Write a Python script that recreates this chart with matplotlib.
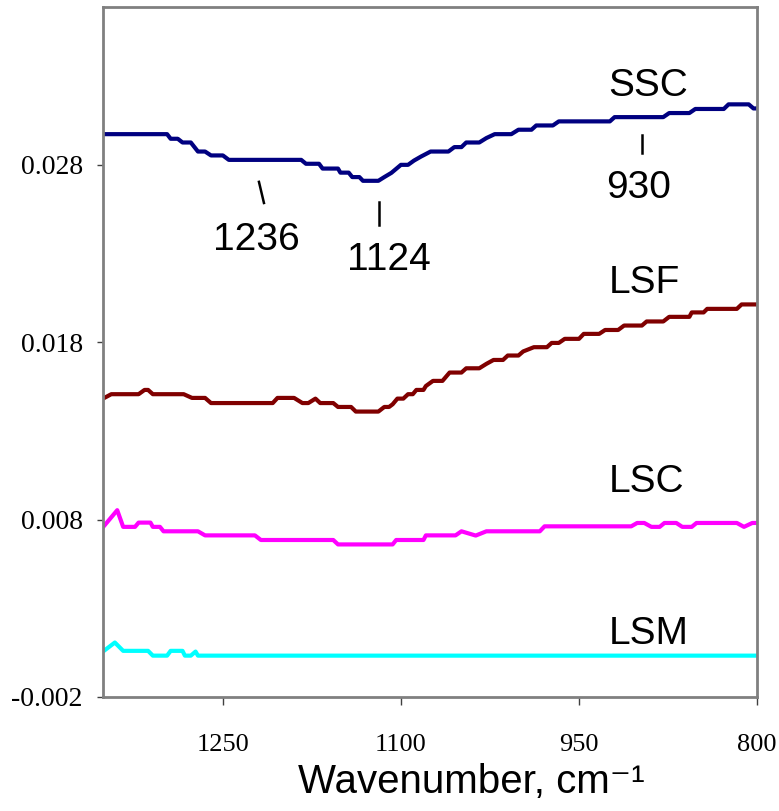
#!/usr/bin/env python3

from matplotlib import pyplot as plt
from matplotlib import font_manager

plt.rcParams['axes.unicode_minus'] = False

# FTIR spectra, wavenumber (cm-1) vs absorbance
ssc_x = [1351, 1297, 1294, 1288, 1284, 1277, 1271, 1265, 1260, 1250, 1245, 1184, 1180, 1169,
         1166, 1153, 1151, 1144, 1141, 1135, 1132, 1119, 1114, 1108, 1100, 1094, 1089, 1083,
         1075, 1060, 1055, 1049, 1045, 1034, 1028, 1021, 1007, 1001, 990, 986, 972, 967, 924,
         920, 879, 874, 857, 852, 828, 824, 807, 803, 800]
ssc_y = [0.02973, 0.02973, 0.02947, 0.02947, 0.02926, 0.02926, 0.02875, 0.02875, 0.02853,
         0.02853, 0.02828, 0.02828, 0.02806, 0.02806, 0.02779, 0.02779, 0.02756, 0.02756,
         0.02731, 0.02731, 0.02710, 0.02710, 0.02731, 0.02755, 0.02800, 0.02800, 0.02824,
         0.02847, 0.02875, 0.02875, 0.02900, 0.02900, 0.02926, 0.02926, 0.02951, 0.02973,
         0.02973, 0.02998, 0.02998, 0.03022, 0.03022, 0.03045, 0.03045, 0.03069, 0.03069,
         0.03092, 0.03092, 0.03115, 0.03115, 0.03141, 0.03141, 0.03118, 0.03118]

lsf_x = [1351, 1344, 1321, 1316, 1313, 1309, 1283, 1276, 1265, 1260, 1208, 1204, 1190, 1183,
         1178, 1172, 1168, 1157, 1153, 1142, 1138, 1119, 1114, 1110, 1107, 1103, 1098, 1094,
         1090, 1087, 1081, 1079, 1073, 1065, 1059, 1049, 1045, 1034, 1028, 1022, 1014, 1010,
         1001, 997, 988, 977, 973, 967, 962, 950, 946, 933, 928, 917, 912, 897, 893, 879, 874,
         857, 855, 845, 842, 817, 813, 800]
lsf_y = [0.01482, 0.01507, 0.01507, 0.01531, 0.01531, 0.01507, 0.01507, 0.01486, 0.01486,
         0.01457, 0.01457, 0.01486, 0.01486, 0.01457, 0.01457, 0.01482, 0.01457, 0.01457,
         0.01435, 0.01435, 0.01409, 0.01409, 0.01435, 0.01435, 0.01450, 0.01482, 0.01482,
         0.01507, 0.01507, 0.01531, 0.01531, 0.01553, 0.01582, 0.01582, 0.01629, 0.01629,
         0.01653, 0.01653, 0.01678, 0.01700, 0.01700, 0.01725, 0.01725, 0.01748, 0.01772,
         0.01772, 0.01796, 0.01796, 0.01819, 0.01819, 0.01847, 0.01847, 0.01869, 0.01869,
         0.01894, 0.01894, 0.01917, 0.01917, 0.01943, 0.01943, 0.01968, 0.01968, 0.01988,
         0.01988, 0.02013, 0.02013]

lsc_x = [1351, 1339, 1334, 1324, 1321, 1311, 1309, 1303, 1300, 1271, 1265, 1223, 1218, 1157,
         1153, 1107, 1104, 1081, 1079, 1054, 1049, 1037, 1028, 983, 979, 906, 901, 895, 889,
         882, 878, 868, 863, 855, 851, 817, 811, 804, 800]
lsc_y = [0.00757, 0.00853, 0.00759, 0.00759, 0.00783, 0.00783, 0.00759, 0.00759, 0.00734,
         0.00734, 0.00711, 0.00711, 0.00685, 0.00685, 0.00660, 0.00660, 0.00685, 0.00685,
         0.00711, 0.00711, 0.00734, 0.00710, 0.00734, 0.00734, 0.00762, 0.00762, 0.00781,
         0.00781, 0.00759, 0.00759, 0.00781, 0.00781, 0.00759, 0.00759, 0.00781, 0.00781,
         0.00759, 0.00781, 0.00781]

lsm_x = [1351, 1341, 1334, 1313, 1309, 1297, 1294, 1284, 1282, 1277, 1273, 1271, 800]
lsm_y = [0.00056, 0.00107, 0.00060, 0.00060, 0.00033, 0.00033, 0.00060, 0.00060, 0.00033,
         0.00033, 0.00056, 0.00033, 0.00033]

x_ticks = [1250, 1100, 950, 800]
y_ticks = [-0.002, 0.008, 0.018, 0.028]

have_narrow = any(f.name == 'Liberation Sans Narrow' for f in font_manager.fontManager.ttflist)
if have_narrow:
    sans = ['Liberation Sans Narrow', 'Liberation Sans', 'DejaVu Sans']
    note_size, xlabel_size = 33, 36
else:
    sans = ['Liberation Sans', 'DejaVu Sans']
    note_size, xlabel_size = 28, 29
serif = ['Liberation Serif', 'DejaVu Serif']

fig = plt.figure(figsize=(7.79, 8.11), dpi=100)
ax = fig.add_axes([0.1322, 0.1406, 0.8396, 0.8508])

ax.plot(ssc_x, ssc_y, color='#000080', lw=3)
ax.plot(lsf_x, lsf_y, color='#800000', lw=3)
ax.plot(lsc_x, lsc_y, color='#ff00ff', lw=3)
ax.plot(lsm_x, lsm_y, color='#00ffff', lw=3)

ax.set_xlim(1351, 800)
ax.set_ylim(-0.002, 0.0369)
ax.set_xticks(x_ticks)
ax.set_xticklabels([str(v) for v in x_ticks], family=serif, fontsize=19)
ax.set_yticks(y_ticks)
ax.set_yticklabels(['%.3f' % v for v in y_ticks], family=serif, fontsize=20)
ax.tick_params(axis='x', direction='out', length=6, width=1, color='#404040', pad=21)
ax.tick_params(axis='y', direction='out', length=4.5, width=1, color='#404040', pad=10)

for s in ax.spines.values():
    s.set_color('#808080')
    s.set_linewidth(2)

# sample names
for name, y in [('SSC', 0.0319), ('LSF', 0.02077), ('LSC', 0.00958), ('LSM', 0.00099)]:
    ax.text(925, y, name, family=sans, fontsize=note_size, ha='left', va='baseline')

# band positions with their marker strokes
ax.plot([1219.6, 1215.4], [0.02704, 0.02585], color='black', lw=1.8)
ax.text(1222, 0.02318, '1236', family=sans, fontsize=note_size, ha='center', va='baseline')
ax.plot([1118.6, 1118.6], [0.02591, 0.02461], color='black', lw=1.8)
ax.text(1110, 0.02207, '1124', family=sans, fontsize=note_size, ha='center', va='baseline')
ax.plot([897.2, 897.2], [0.0297, 0.02868], color='black', lw=1.8)
ax.text(900, 0.02614, '930', family=sans, fontsize=note_size, ha='center', va='baseline')

ax.set_xlabel('Wavenumber, cm⁻¹', family=sans, fontsize=xlabel_size)
ax.xaxis.set_label_coords(0.563, -0.095)

fig.savefig('out.png', dpi=100)
